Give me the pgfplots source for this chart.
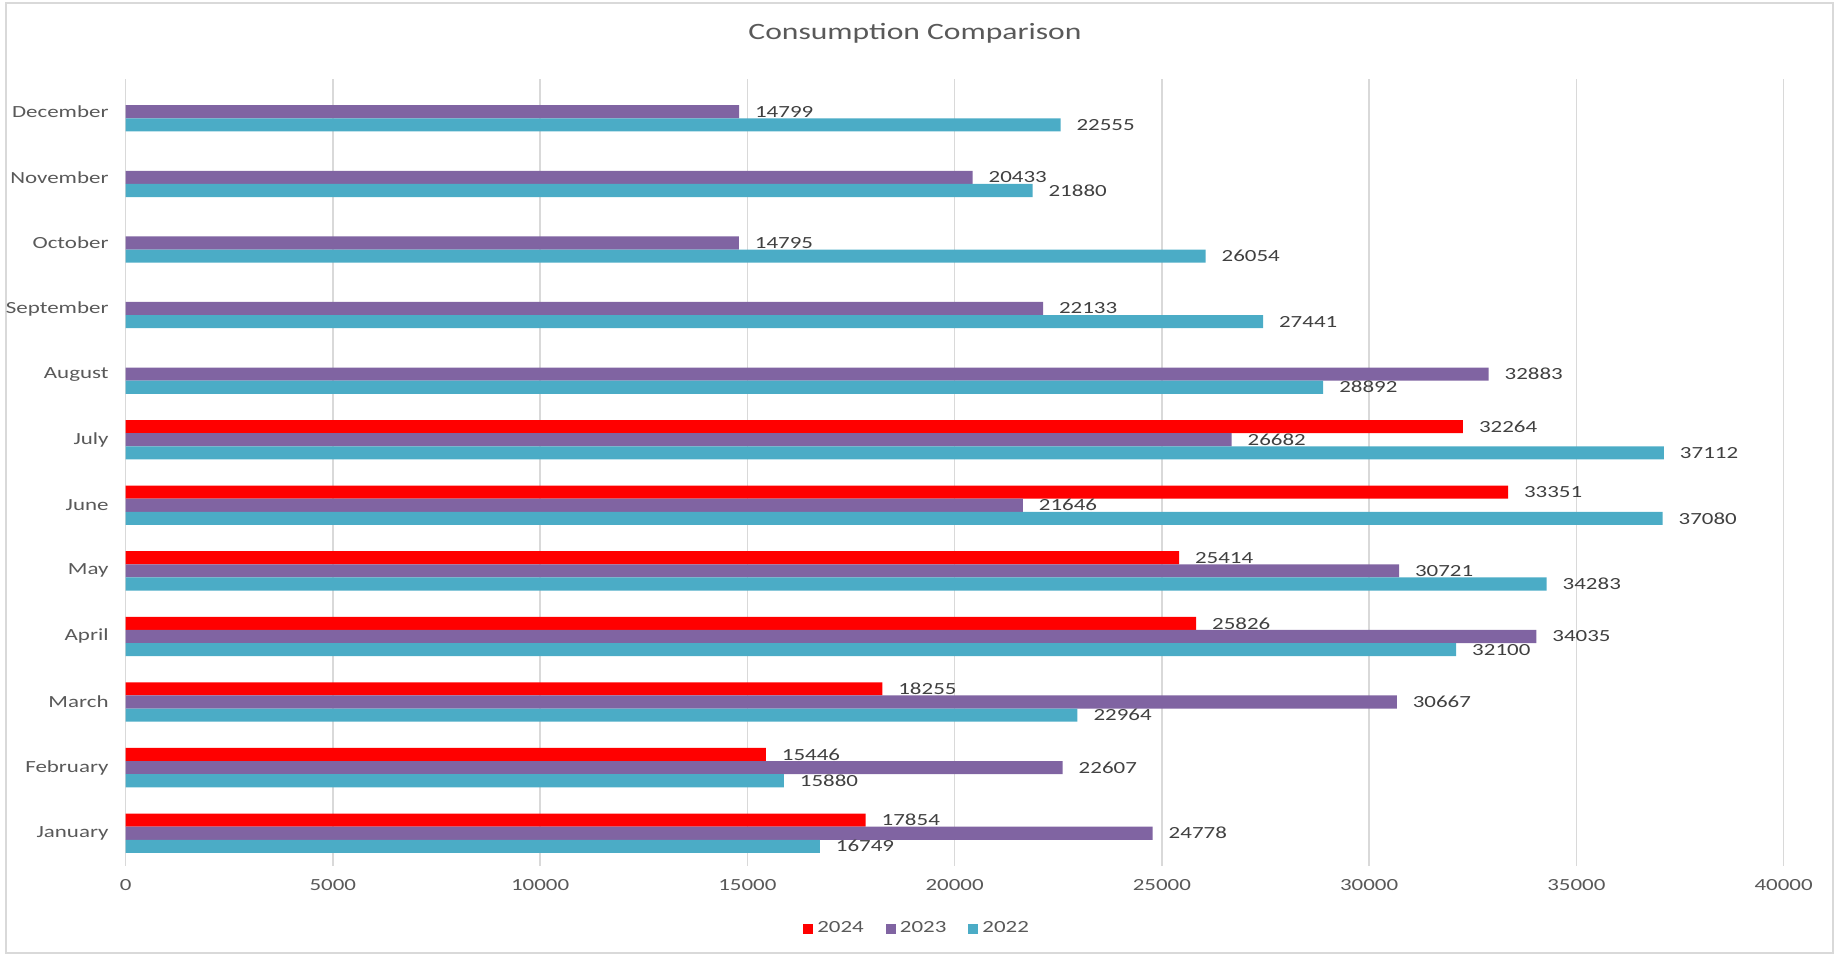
\documentclass[border=0pt]{standalone}
\usepackage{fontspec}
\setmainfont{Carlito}[FakeStretch=1.35]
\usepackage{pgfplots}
\pgfplotsset{compat=1.18}
\definecolor{c24}{HTML}{FF0000}
\definecolor{c23}{HTML}{8064A2}
\definecolor{c22}{HTML}{4BACC6}
\definecolor{txt}{HTML}{595959}
\definecolor{lbl}{HTML}{404040}
\definecolor{gridc}{HTML}{D9D9D9}
\begin{document}
\begin{tikzpicture}
\path[use as bounding box] (0,0) rectangle (920pt,478pt);
\draw[gridc, line width=0.8pt] (3pt,1.5pt) rectangle (916.5pt,476.5pt);
\node[txt, font=\fontsize{11.7}{14}\selectfont] at (457.5pt,461.5pt) {Consumption Comparison};
\begin{axis}[
  at={(62.8pt,45pt)}, anchor=south west,
  scale only axis, width=829pt, height=393.5pt,
  xbar, bar width=0.2,
  xmin=0, xmax=40000, xtick={0,5000,...,40000},
  ymin=-0.5, ymax=11.5,
  ytick={0,...,11},
  yticklabels={January,February,March,April,May,June,July,August,September,October,November,December},
  axis line style={draw=none},
  xmajorgrids, grid style={gridc, line width=0.8pt},
  major tick length=0pt,
  tick label style={txt, font=\fontsize{8.5}{10}\selectfont},
  yticklabel style={xshift=-5pt},
  xticklabel style={yshift=-3pt},
  /pgf/number format/assume math mode=true,
  /pgf/number format/1000 sep={},
  scaled x ticks=false,
  nodes near coords,
  nodes near coords style={anchor=west, xshift=4.5pt, lbl, font=\fontsize{8.5}{10}\selectfont, /pgf/number format/1000 sep={}, /pgf/number format/assume math mode=true},
  legend style={at={(0.478,-0.08)}, anchor=center, draw=none, legend columns=-1, font=\fontsize{8.5}{10}\selectfont, text=txt, /tikz/every even column/.append style={column sep=9pt}},
  legend image code/.code={\fill[#1] (0pt,-2.5pt) rectangle (5pt,2.5pt);},
]
\addplot[fill=c24, draw=none, bar shift=0.2] coordinates {
(17854,0) (15446,1) (18255,2) (25826,3) (25414,4) (33351,5) (32264,6)};
\addplot[fill=c23, draw=none, bar shift=0] coordinates {
(24778,0) (22607,1) (30667,2) (34035,3) (30721,4) (21646,5) (26682,6) (32883,7) (22133,8) (14795,9) (20433,10) (14799,11)};
\addplot[fill=c22, draw=none, bar shift=-0.2] coordinates {
(16749,0) (15880,1) (22964,2) (32100,3) (34283,4) (37080,5) (37112,6) (28892,7) (27441,8) (26054,9) (21880,10) (22555,11)};
\legend{2024,2023,2022}
\end{axis}
\end{tikzpicture}
\end{document}
